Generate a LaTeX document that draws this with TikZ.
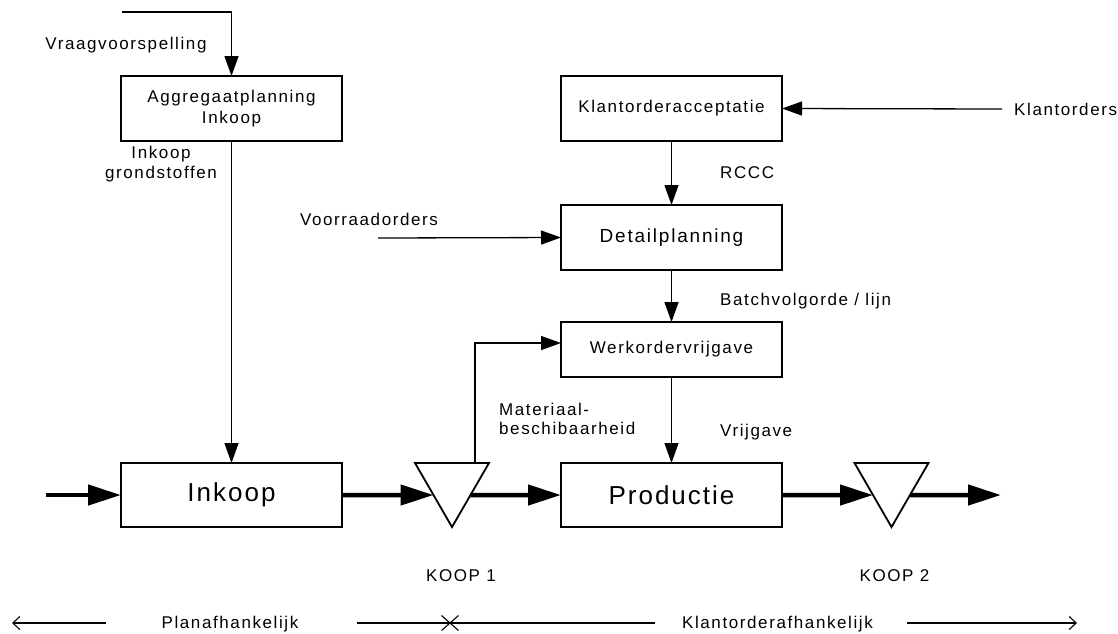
\documentclass[tikz,border=0pt]{standalone}
\usepackage{fontspec}
\setmainfont{Liberation Sans}[LetterSpace=9.4]
\newfontfamily\bigfont{Liberation Sans}[LetterSpace=7.7]
\usetikzlibrary{arrows.meta,calc,shapes.geometric}

\begin{document}
\begin{tikzpicture}[x=1pt,y=-1pt,
  box/.style={draw,line width=1.8pt,minimum width=221pt,minimum height=65pt,
    inner sep=0pt,outer sep=0pt,align=center,font=\fontsize{17}{21}\selectfont},
  bigbox/.style={box,minimum height=64pt,font=\bigfont\fontsize{26}{30}\selectfont},
  buffer/.style={draw,line width=1.8pt,regular polygon,regular polygon sides=3,
    shape border rotate=180,minimum size=85.4pt,inner sep=0pt,outer sep=0pt},
  lbl/.style={inner sep=0pt,font=\fontsize{17}{19.5}\selectfont},
  flow/.style={line width=1.3pt,-{Triangle[length=20pt,width=14pt]}},
  goods/.style={line width=4.5pt,-{Triangle[length=33pt,width=20pt]}},
  span/.style={line width=1.1pt,-{Straight Barb[length=7pt,width=13pt]}}]

\useasboundingbox (0,0) rectangle (1118,633);

% planning boxes
\node[box] (agg) at (231.5,108.5) {Aggregaatplanning\\Inkoop};
\node[box] (koa) at (671.5,108.5) {Klantorderacceptatie};
\node[box] (det) at (671.5,237.5) {\fontsize{19}{21}\selectfont Detailplanning};
\node[box,minimum height=55pt] (wv) at (671.5,349.5) {Werkordervrijgave};

% goods flow
\node[bigbox] (ink) at (231.5,495) {Inkoop};
\node[bigbox] (prod) at (671.5,495) {Productie};
\node[buffer] (t1) at (452,484.35) {};
\node[buffer] (t2) at (891.5,484.35) {};

% labels
\node[lbl] (vv) at (126,45) {Vraagvoorspelling};
\node[lbl,align=center] (igs) at (161,164) {Inkoop\\grondstoffen};
\node[lbl,anchor=west] (ko) at (1014,109) {Klantorders};
\node[lbl,anchor=west] (rccc) at (720,173) {RCCC};
\node[lbl] (vo) at (369,219) {Voorraadorders};
\node[lbl,anchor=west] (bv) at (720,301) {Batchvolgorde / lijn};
\node[lbl,anchor=west,align=left] (mb) at (499,419) {Materiaal-\\beschibaarheid};
\node[lbl,anchor=west] (vg) at (720,432) {Vrijgave};
\node[lbl] (k1) at (461,576) {KOOP 1};
\node[lbl] (k2) at (894.5,576) {KOOP 2};
\node[lbl] (pa) at (230,624) {Planafhankelijk};
\node[lbl] (ka) at (777.5,624) {Klantorderafhankelijk};

% free ends of the connectors
\coordinate (vvin) at (122,12);
\coordinate (koin) at (1002,109);
\coordinate (vrin) at (378,238);
\coordinate (src) at (46,495);
\coordinate (sink) at (1001,495);
\coordinate (t1in) at ($(t1.corner 3)!0.5!(t1.corner 1)$);
\coordinate (t1out) at ($(t1.corner 2)!0.5!(t1.corner 1)$);
\coordinate (t2in) at ($(t2.corner 3)!0.5!(t2.corner 1)$);
\coordinate (t2out) at ($(t2.corner 2)!0.5!(t2.corner 1)$);
\coordinate (t1top) at ($(t1.corner 3)!0.81!(t1.corner 2)$);

% information flow
\draw[flow] (vvin) -| (agg.north);
\draw[flow] (agg.south) -- (ink.north);
\draw[flow] (koin) -- (koa.east);
\draw[flow] (koa.south) -- (det.north);
\draw[flow] (vrin) -- (det.west);
\draw[flow] (det.south) -- (wv.north);
\draw[flow] (wv.south) -- (prod.north);
\draw[flow] (t1top) |- ([yshift=6.5pt]wv.west);

% material flow
\draw[goods] (src) -- (ink.west);
\draw[goods] (ink.east) -- (t1in);
\draw[goods] (t1out) -- (prod.west);
\draw[goods] (prod.east) -- (t2in);
\draw[goods] (t2out) -- (sink);

% decoupling scale
\coordinate (la) at (12,623);
\coordinate (lb) at (106,623);
\coordinate (ma) at (357,623);
\coordinate (mb2) at (655,623);
\coordinate (ra) at (907,623);
\coordinate (rb) at (1077,623);
\coordinate (xm) at (450,623);
\draw[span] (lb) -- (la);
\draw[line width=1.1pt] (ma) -- (mb2);
\draw[span] (ra) -- (rb);
\draw[line width=1.1pt] ([shift={(-8.5,-7.5)}]xm) -- ([shift={(8.5,7.5)}]xm)
  ([shift={(-8.5,7.5)}]xm) -- ([shift={(8.5,-7.5)}]xm);
\end{tikzpicture}
\end{document}
